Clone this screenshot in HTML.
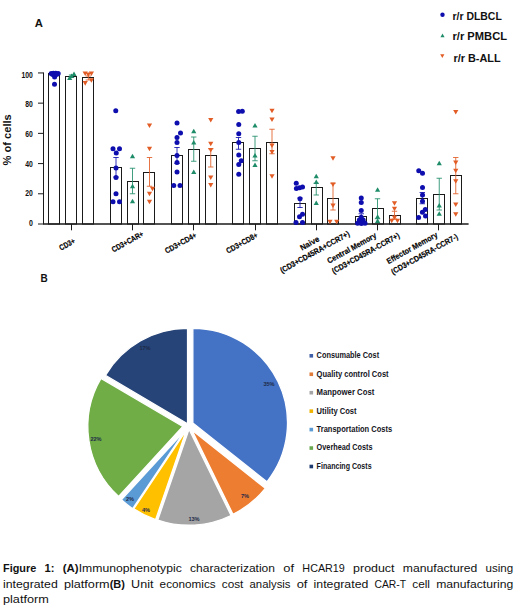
<!DOCTYPE html>
<html><head><meta charset="utf-8"><title>Figure 1</title>
<style>
html,body{margin:0;padding:0;background:#fff;}
body{width:520px;height:608px;overflow:hidden;position:relative;font-family:"Liberation Sans",sans-serif;}
svg{position:absolute;left:0;top:0;font-family:"Liberation Sans",sans-serif;}
.cap{position:absolute;left:3px;top:560.5px;width:510.5px;font-size:11.2px;line-height:15.5px;color:#111;text-align:justify;}
.cap .l{display:block;height:15.5px;white-space:nowrap;text-align:justify;text-align-last:justify;}
.cap .l.last{text-align-last:left;}
</style></head><body>
<svg width="520" height="608" viewBox="0 0 520 608">
<rect x="48.50" y="73.50" width="11.00" height="150.50" fill="#fff" stroke="#1a1a1a" stroke-width="1"/>
<rect x="65.50" y="76.50" width="11.00" height="147.50" fill="#fff" stroke="#1a1a1a" stroke-width="1"/>
<rect x="82.50" y="77.50" width="11.00" height="146.50" fill="#fff" stroke="#1a1a1a" stroke-width="1"/>
<rect x="110.50" y="167.50" width="11.00" height="56.50" fill="#fff" stroke="#1a1a1a" stroke-width="1"/>
<rect x="127.50" y="181.50" width="11.00" height="42.50" fill="#fff" stroke="#1a1a1a" stroke-width="1"/>
<rect x="143.50" y="172.50" width="11.00" height="51.50" fill="#fff" stroke="#1a1a1a" stroke-width="1"/>
<rect x="171.50" y="155.50" width="11.00" height="68.50" fill="#fff" stroke="#1a1a1a" stroke-width="1"/>
<rect x="188.50" y="149.50" width="11.00" height="74.50" fill="#fff" stroke="#1a1a1a" stroke-width="1"/>
<rect x="205.50" y="155.50" width="11.00" height="68.50" fill="#fff" stroke="#1a1a1a" stroke-width="1"/>
<rect x="232.50" y="142.50" width="11.00" height="81.50" fill="#fff" stroke="#1a1a1a" stroke-width="1"/>
<rect x="249.50" y="148.50" width="11.00" height="75.50" fill="#fff" stroke="#1a1a1a" stroke-width="1"/>
<rect x="266.50" y="142.50" width="11.00" height="81.50" fill="#fff" stroke="#1a1a1a" stroke-width="1"/>
<rect x="294.50" y="203.50" width="11.00" height="20.50" fill="#fff" stroke="#1a1a1a" stroke-width="1"/>
<rect x="311.50" y="187.50" width="11.00" height="36.50" fill="#fff" stroke="#1a1a1a" stroke-width="1"/>
<rect x="327.50" y="198.50" width="11.00" height="25.50" fill="#fff" stroke="#1a1a1a" stroke-width="1"/>
<rect x="355.50" y="216.50" width="11.00" height="7.50" fill="#fff" stroke="#1a1a1a" stroke-width="1"/>
<rect x="372.50" y="208.50" width="11.00" height="15.50" fill="#fff" stroke="#1a1a1a" stroke-width="1"/>
<rect x="389.50" y="215.50" width="11.00" height="8.50" fill="#fff" stroke="#1a1a1a" stroke-width="1"/>
<rect x="416.50" y="198.50" width="11.00" height="25.50" fill="#fff" stroke="#1a1a1a" stroke-width="1"/>
<rect x="433.50" y="194.50" width="11.00" height="29.50" fill="#fff" stroke="#1a1a1a" stroke-width="1"/>
<rect x="450.50" y="175.50" width="11.00" height="48.50" fill="#fff" stroke="#1a1a1a" stroke-width="1"/>
<path d="M43.5 72.5V224.0" stroke="#1a1a1a" stroke-width="1" fill="none"/><path d="M43 224.0H468.6" stroke="#1a1a1a" stroke-width="1.35" fill="none"/>
<path d="M38 224.00H43.5" stroke="#1a1a1a" stroke-width="1"/>
<text x="32.8" y="225.85" text-anchor="end" font-size="8.2" font-weight="bold" textLength="3.9" lengthAdjust="spacingAndGlyphs" fill="#111">0</text>
<path d="M38 193.79H43.5" stroke="#1a1a1a" stroke-width="1"/>
<text x="32.8" y="196.23" text-anchor="end" font-size="8.2" font-weight="bold" textLength="7.6" lengthAdjust="spacingAndGlyphs" fill="#111">20</text>
<path d="M38 163.58H43.5" stroke="#1a1a1a" stroke-width="1"/>
<text x="32.8" y="166.61" text-anchor="end" font-size="8.2" font-weight="bold" textLength="7.6" lengthAdjust="spacingAndGlyphs" fill="#111">40</text>
<path d="M38 133.36H43.5" stroke="#1a1a1a" stroke-width="1"/>
<text x="32.8" y="136.99" text-anchor="end" font-size="8.2" font-weight="bold" textLength="7.6" lengthAdjust="spacingAndGlyphs" fill="#111">60</text>
<path d="M38 103.15H43.5" stroke="#1a1a1a" stroke-width="1"/>
<text x="32.8" y="107.37" text-anchor="end" font-size="8.2" font-weight="bold" textLength="7.6" lengthAdjust="spacingAndGlyphs" fill="#111">80</text>
<path d="M38 72.94H43.5" stroke="#1a1a1a" stroke-width="1"/>
<text x="32.8" y="77.75" text-anchor="end" font-size="8.2" font-weight="bold" textLength="11.4" lengthAdjust="spacingAndGlyphs" fill="#111">100</text>
<path d="M71.5 224.0V230.3" stroke="#1a1a1a" stroke-width="1"/>
<path d="M132.5 224.0V230.3" stroke="#1a1a1a" stroke-width="1"/>
<path d="M193.5 224.0V230.3" stroke="#1a1a1a" stroke-width="1"/>
<path d="M255.5 224.0V230.3" stroke="#1a1a1a" stroke-width="1"/>
<path d="M316.5 224.0V230.3" stroke="#1a1a1a" stroke-width="1"/>
<path d="M377.5 224.0V230.3" stroke="#1a1a1a" stroke-width="1"/>
<path d="M438.5 224.0V230.3" stroke="#1a1a1a" stroke-width="1"/>
<path d="M54.6 73V75M51.9 73H57.300000000000004M51.9 75H57.300000000000004" stroke="#0e0eae" stroke-width="0.85" fill="none"/>
<path d="M116 157.5V177M113.3 157.5H118.7M113.3 177H118.7" stroke="#0e0eae" stroke-width="0.85" fill="none"/>
<path d="M177 147.5V163.5M174.3 147.5H179.7M174.3 163.5H179.7" stroke="#0e0eae" stroke-width="0.85" fill="none"/>
<path d="M238.5 137.5V149.25M235.8 137.5H241.2M235.8 149.25H241.2" stroke="#0e0eae" stroke-width="0.85" fill="none"/>
<path d="M300 198V207.5M297.3 198H302.7M297.3 207.5H302.7" stroke="#0e0eae" stroke-width="0.85" fill="none"/>
<path d="M361.25 213.75V219M358.55 213.75H363.95M358.55 219H363.95" stroke="#0e0eae" stroke-width="0.85" fill="none"/>
<path d="M422.3 192.5V203.75M419.6 192.5H425.0M419.6 203.75H425.0" stroke="#0e0eae" stroke-width="0.85" fill="none"/>
<path d="M71.5 75V77.5M68.8 75H74.2M68.8 77.5H74.2" stroke="#1f8c69" stroke-width="0.85" fill="none"/>
<path d="M132.5 168.25V193.75M129.8 168.25H135.2M129.8 193.75H135.2" stroke="#1f8c69" stroke-width="0.85" fill="none"/>
<path d="M193.75 137V161.25M191.05 137H196.45M191.05 161.25H196.45" stroke="#1f8c69" stroke-width="0.85" fill="none"/>
<path d="M255 136.25V160.75M252.3 136.25H257.7M252.3 160.75H257.7" stroke="#1f8c69" stroke-width="0.85" fill="none"/>
<path d="M316.25 183.25V195M313.55 183.25H318.95M313.55 195H318.95" stroke="#1f8c69" stroke-width="0.85" fill="none"/>
<path d="M377.5 198.75V218.7M374.8 198.75H380.2M374.8 218.7H380.2" stroke="#1f8c69" stroke-width="0.85" fill="none"/>
<path d="M439.25 178.25V210M436.55 178.25H441.95M436.55 210H441.95" stroke="#1f8c69" stroke-width="0.85" fill="none"/>
<path d="M88.3 76V80M85.6 76H91.0M85.6 80H91.0" stroke="#e25c25" stroke-width="0.85" fill="none"/>
<path d="M149.5 157.5V186.25M146.8 157.5H152.2M146.8 186.25H152.2" stroke="#e25c25" stroke-width="0.85" fill="none"/>
<path d="M210.75 148.75V167M208.05 148.75H213.45M208.05 167H213.45" stroke="#e25c25" stroke-width="0.85" fill="none"/>
<path d="M272 129.25V153.75M269.3 129.25H274.7M269.3 153.75H274.7" stroke="#e25c25" stroke-width="0.85" fill="none"/>
<path d="M333 183.25V210M330.3 183.25H335.7M330.3 210H335.7" stroke="#e25c25" stroke-width="0.85" fill="none"/>
<path d="M394.5 211.25V219M391.8 211.25H397.2M391.8 219H397.2" stroke="#e25c25" stroke-width="0.85" fill="none"/>
<path d="M455.75 157.5V193.75M453.05 157.5H458.45M453.05 193.75H458.45" stroke="#e25c25" stroke-width="0.85" fill="none"/>
<circle cx="51.2" cy="73.4" r="2.5" fill="#0e0eae"/>
<circle cx="53.4" cy="73.3" r="2.5" fill="#0e0eae"/>
<circle cx="55.8" cy="73.3" r="2.5" fill="#0e0eae"/>
<circle cx="58.2" cy="73.4" r="2.5" fill="#0e0eae"/>
<circle cx="54.6" cy="76.9" r="2.5" fill="#0e0eae"/>
<circle cx="52.6" cy="74.6" r="2.5" fill="#0e0eae"/>
<circle cx="56.6" cy="74.6" r="2.5" fill="#0e0eae"/>
<circle cx="54.5" cy="84.3" r="2.5" fill="#0e0eae"/>
<circle cx="115.75" cy="110.75" r="2.5" fill="#0e0eae"/>
<circle cx="113" cy="148.75" r="2.5" fill="#0e0eae"/>
<circle cx="119.5" cy="148.75" r="2.5" fill="#0e0eae"/>
<circle cx="116.25" cy="153" r="2.5" fill="#0e0eae"/>
<circle cx="116" cy="168" r="2.5" fill="#0e0eae"/>
<circle cx="116" cy="177.5" r="2.5" fill="#0e0eae"/>
<circle cx="116" cy="193.75" r="2.5" fill="#0e0eae"/>
<circle cx="113" cy="201.75" r="2.5" fill="#0e0eae"/>
<circle cx="119.5" cy="201.75" r="2.5" fill="#0e0eae"/>
<circle cx="177" cy="123" r="2.5" fill="#0e0eae"/>
<circle cx="180.5" cy="133" r="2.5" fill="#0e0eae"/>
<circle cx="177" cy="137.5" r="2.5" fill="#0e0eae"/>
<circle cx="177" cy="142.5" r="2.5" fill="#0e0eae"/>
<circle cx="177" cy="155.5" r="2.5" fill="#0e0eae"/>
<circle cx="177" cy="162.5" r="2.5" fill="#0e0eae"/>
<circle cx="177" cy="172" r="2.5" fill="#0e0eae"/>
<circle cx="173.75" cy="185.5" r="2.5" fill="#0e0eae"/>
<circle cx="180" cy="185.5" r="2.5" fill="#0e0eae"/>
<circle cx="238.6" cy="111.4" r="2.5" fill="#0e0eae"/>
<circle cx="242.3" cy="111.2" r="2.5" fill="#0e0eae"/>
<circle cx="238.75" cy="124.5" r="2.5" fill="#0e0eae"/>
<circle cx="238.75" cy="133.75" r="2.5" fill="#0e0eae"/>
<circle cx="238.75" cy="142.5" r="2.5" fill="#0e0eae"/>
<circle cx="238.75" cy="155" r="2.5" fill="#0e0eae"/>
<circle cx="241.25" cy="160.75" r="2.5" fill="#0e0eae"/>
<circle cx="238.75" cy="164.5" r="2.5" fill="#0e0eae"/>
<circle cx="238.75" cy="174.25" r="2.5" fill="#0e0eae"/>
<circle cx="296.25" cy="183.25" r="2.5" fill="#0e0eae"/>
<circle cx="296.4" cy="188.6" r="2.5" fill="#0e0eae"/>
<circle cx="299.6" cy="187.8" r="2.5" fill="#0e0eae"/>
<circle cx="302.5" cy="186.9" r="2.5" fill="#0e0eae"/>
<circle cx="300" cy="198.75" r="2.5" fill="#0e0eae"/>
<circle cx="302.5" cy="214.25" r="2.5" fill="#0e0eae"/>
<circle cx="299.5" cy="216.75" r="2.5" fill="#0e0eae"/>
<circle cx="296" cy="222.5" r="2.5" fill="#0e0eae"/>
<circle cx="302.5" cy="222.5" r="2.5" fill="#0e0eae"/>
<circle cx="361.25" cy="198" r="2.5" fill="#0e0eae"/>
<circle cx="361.25" cy="202.5" r="2.5" fill="#0e0eae"/>
<circle cx="361.25" cy="210.5" r="2.5" fill="#0e0eae"/>
<circle cx="359.3" cy="220" r="2.5" fill="#0e0eae"/>
<circle cx="363.2" cy="220" r="2.5" fill="#0e0eae"/>
<circle cx="361.2" cy="217.2" r="2.5" fill="#0e0eae"/>
<circle cx="357.6" cy="223.3" r="2.5" fill="#0e0eae"/>
<circle cx="361.4" cy="223.6" r="2.5" fill="#0e0eae"/>
<circle cx="365" cy="223.3" r="2.5" fill="#0e0eae"/>
<circle cx="418.75" cy="170.75" r="2.5" fill="#0e0eae"/>
<circle cx="422.5" cy="173.25" r="2.5" fill="#0e0eae"/>
<circle cx="422.5" cy="187.5" r="2.5" fill="#0e0eae"/>
<circle cx="422.5" cy="195" r="2.5" fill="#0e0eae"/>
<circle cx="422.5" cy="201.25" r="2.5" fill="#0e0eae"/>
<circle cx="425.3" cy="209.5" r="2.5" fill="#0e0eae"/>
<circle cx="422.4" cy="212.2" r="2.5" fill="#0e0eae"/>
<circle cx="418.6" cy="217.4" r="2.5" fill="#0e0eae"/>
<circle cx="425.5" cy="216" r="2.5" fill="#0e0eae"/>
<path d="M67.10 80.08L72.30 80.08L69.70 75.53Z" fill="#1f8c69"/>
<path d="M71.40 76.08L76.60 76.08L74.00 71.53Z" fill="#1f8c69"/>
<path d="M68.90 78.08L74.10 78.08L71.50 73.53Z" fill="#1f8c69"/>
<path d="M129.90 158.33L135.10 158.33L132.50 153.78Z" fill="#1f8c69"/>
<path d="M129.90 188.33L135.10 188.33L132.50 183.78Z" fill="#1f8c69"/>
<path d="M129.90 203.33L135.10 203.33L132.50 198.78Z" fill="#1f8c69"/>
<path d="M191.15 133.33L196.35 133.33L193.75 128.78Z" fill="#1f8c69"/>
<path d="M191.15 144.58L196.35 144.58L193.75 140.03Z" fill="#1f8c69"/>
<path d="M191.15 174.08L196.35 174.08L193.75 169.53Z" fill="#1f8c69"/>
<path d="M252.40 127.58L257.60 127.58L255.00 123.03Z" fill="#1f8c69"/>
<path d="M252.40 157.58L257.60 157.58L255.00 153.03Z" fill="#1f8c69"/>
<path d="M252.40 167.08L257.60 167.08L255.00 162.53Z" fill="#1f8c69"/>
<path d="M313.65 178.33L318.85 178.33L316.25 173.78Z" fill="#1f8c69"/>
<path d="M313.65 184.08L318.85 184.08L316.25 179.53Z" fill="#1f8c69"/>
<path d="M313.65 205.08L318.85 205.08L316.25 200.53Z" fill="#1f8c69"/>
<path d="M375.00 191.68L380.20 191.68L377.60 187.13Z" fill="#1f8c69"/>
<path d="M375.00 218.68L380.20 218.68L377.60 214.13Z" fill="#1f8c69"/>
<path d="M375.00 222.88L380.20 222.88L377.60 218.33Z" fill="#1f8c69"/>
<path d="M436.65 165.33L441.85 165.33L439.25 160.78Z" fill="#1f8c69"/>
<path d="M436.65 207.58L441.85 207.58L439.25 203.03Z" fill="#1f8c69"/>
<path d="M436.65 215.83L441.85 215.83L439.25 211.28Z" fill="#1f8c69"/>
<path d="M82.60 71.52L87.80 71.52L85.20 76.07Z" fill="#e25c25"/>
<path d="M88.80 71.52L94.00 71.52L91.40 76.07Z" fill="#e25c25"/>
<path d="M85.70 72.52L90.90 72.52L88.30 77.07Z" fill="#e25c25"/>
<path d="M82.60 81.12L87.80 81.12L85.20 85.67Z" fill="#e25c25"/>
<path d="M88.80 78.32L94.00 78.32L91.40 82.87Z" fill="#e25c25"/>
<path d="M146.90 123.42L152.10 123.42L149.50 127.97Z" fill="#e25c25"/>
<path d="M146.90 146.67L152.10 146.67L149.50 151.22Z" fill="#e25c25"/>
<path d="M149.90 186.67L155.10 186.67L152.50 191.22Z" fill="#e25c25"/>
<path d="M146.90 191.67L152.10 191.67L149.50 196.22Z" fill="#e25c25"/>
<path d="M146.90 199.67L152.10 199.67L149.50 204.22Z" fill="#e25c25"/>
<path d="M208.15 117.92L213.35 117.92L210.75 122.47Z" fill="#e25c25"/>
<path d="M208.15 141.67L213.35 141.67L210.75 146.22Z" fill="#e25c25"/>
<path d="M208.15 147.92L213.35 147.92L210.75 152.47Z" fill="#e25c25"/>
<path d="M208.15 175.42L213.35 175.42L210.75 179.97Z" fill="#e25c25"/>
<path d="M208.15 182.92L213.35 182.92L210.75 187.47Z" fill="#e25c25"/>
<path d="M269.40 108.67L274.60 108.67L272.00 113.22Z" fill="#e25c25"/>
<path d="M269.40 117.42L274.60 117.42L272.00 121.97Z" fill="#e25c25"/>
<path d="M269.40 143.42L274.60 143.42L272.00 147.97Z" fill="#e25c25"/>
<path d="M269.40 149.92L274.60 149.92L272.00 154.47Z" fill="#e25c25"/>
<path d="M269.40 174.17L274.60 174.17L272.00 178.72Z" fill="#e25c25"/>
<path d="M330.40 156.17L335.60 156.17L333.00 160.72Z" fill="#e25c25"/>
<path d="M330.40 182.42L335.60 182.42L333.00 186.97Z" fill="#e25c25"/>
<path d="M330.40 203.42L335.60 203.42L333.00 207.97Z" fill="#e25c25"/>
<path d="M327.40 219.67L332.60 219.67L330.00 224.22Z" fill="#e25c25"/>
<path d="M334.15 219.67L339.35 219.67L336.75 224.22Z" fill="#e25c25"/>
<path d="M391.90 201.17L397.10 201.17L394.50 205.72Z" fill="#e25c25"/>
<path d="M391.90 206.67L397.10 206.67L394.50 211.22Z" fill="#e25c25"/>
<path d="M389.15 218.67L394.35 218.67L391.75 223.22Z" fill="#e25c25"/>
<path d="M394.90 218.67L400.10 218.67L397.50 223.22Z" fill="#e25c25"/>
<path d="M391.90 215.42L397.10 215.42L394.50 219.97Z" fill="#e25c25"/>
<path d="M453.15 109.92L458.35 109.92L455.75 114.47Z" fill="#e25c25"/>
<path d="M453.15 160.42L458.35 160.42L455.75 164.97Z" fill="#e25c25"/>
<path d="M453.15 168.67L458.35 168.67L455.75 173.22Z" fill="#e25c25"/>
<path d="M453.15 179.17L458.35 179.17L455.75 183.72Z" fill="#e25c25"/>
<path d="M453.15 202.42L458.35 202.42L455.75 206.97Z" fill="#e25c25"/>
<path d="M453.15 212.17L458.35 212.17L455.75 216.72Z" fill="#e25c25"/>
<text transform="translate(67.0 244.3) rotate(-29)" y="2.8" font-size="8" font-weight="bold" fill="#000" stroke="#000" stroke-width="0.18" text-anchor="middle" textLength="16.8" lengthAdjust="spacingAndGlyphs">CD3+</text>
<text transform="translate(127.5 241.6) rotate(-29)" y="2.8" font-size="8" font-weight="bold" fill="#000" stroke="#000" stroke-width="0.18" text-anchor="middle" textLength="35" lengthAdjust="spacingAndGlyphs">CD3+CAR+</text>
<text transform="translate(180.6 242.9) rotate(-29)" y="2.8" font-size="8" font-weight="bold" fill="#000" stroke="#000" stroke-width="0.18" text-anchor="middle" textLength="35" lengthAdjust="spacingAndGlyphs">CD3+CD4+</text>
<text transform="translate(241.9 242.9) rotate(-29)" y="2.8" font-size="8" font-weight="bold" fill="#000" stroke="#000" stroke-width="0.18" text-anchor="middle" textLength="35" lengthAdjust="spacingAndGlyphs">CD3+CD8+</text>
<text transform="translate(309.6 243.2) rotate(-29)" y="2.8" font-size="8" font-weight="bold" fill="#000" stroke="#000" stroke-width="0.18" text-anchor="middle" textLength="20.5" lengthAdjust="spacingAndGlyphs">Naive</text>
<text transform="translate(314.7 251.9) rotate(-29)" y="2.8" font-size="8" font-weight="bold" fill="#000" stroke="#000" stroke-width="0.18" text-anchor="middle" textLength="78" lengthAdjust="spacingAndGlyphs">(CD3+CD45RA+CCR7+)</text>
<text transform="translate(351.7 248) rotate(-29)" y="2.8" font-size="8" font-weight="bold" fill="#000" stroke="#000" stroke-width="0.18" text-anchor="middle" textLength="55" lengthAdjust="spacingAndGlyphs">Central Memory</text>
<text transform="translate(365.6 253.1) rotate(-29)" y="2.8" font-size="8" font-weight="bold" fill="#000" stroke="#000" stroke-width="0.18" text-anchor="middle" textLength="76" lengthAdjust="spacingAndGlyphs">(CD3+CD45RA-CCR7+)</text>
<text transform="translate(412 247.9) rotate(-29)" y="2.8" font-size="8" font-weight="bold" fill="#000" stroke="#000" stroke-width="0.18" text-anchor="middle" textLength="57" lengthAdjust="spacingAndGlyphs">Effector Memory</text>
<text transform="translate(424.4 254) rotate(-29)" y="2.8" font-size="8" font-weight="bold" fill="#000" stroke="#000" stroke-width="0.18" text-anchor="middle" textLength="75" lengthAdjust="spacingAndGlyphs">(CD3+CD45RA-CCR7-)</text>
<text transform="translate(11.4 165.5) rotate(-90)" font-size="11.2" font-weight="bold" textLength="51.3" lengthAdjust="spacingAndGlyphs" fill="#111">% of cells</text>
<text x="34.8" y="26.8" font-size="11.3" font-weight="bold" fill="#111">A</text>
<text x="40.6" y="282" font-size="11.6" font-weight="bold" textLength="7.2" lengthAdjust="spacingAndGlyphs" fill="#111">B</text>
<circle cx="442.5" cy="14.7" r="2.2" fill="#0e0eae"/>
<path d="M440.40 37.28L444.60 37.28L442.50 33.61Z" fill="#1f8c69"/>
<path d="M440.20 54.22L444.40 54.22L442.30 57.89Z" fill="#e25c25"/>
<text x="452.5" y="19.9" font-size="10.4" font-weight="bold" textLength="49.3" lengthAdjust="spacingAndGlyphs" fill="#111">r/r DLBCL</text>
<text x="452.5" y="40.1" font-size="10.4" font-weight="bold" textLength="54.5" lengthAdjust="spacingAndGlyphs" fill="#111">r/r PMBCL</text>
<text x="453.4" y="61.8" font-size="10.4" font-weight="bold" textLength="47.2" lengthAdjust="spacingAndGlyphs" fill="#111">r/r B-ALL</text>
<path d="M192.85 422.90L192.85 328.25A94.65 94.65 0 0 1 266.92 481.82Z" fill="#4472c4" stroke="#fff" stroke-width="1.3" stroke-linejoin="miter" stroke-miterlimit="20"/>
<path d="M191.80 429.90L265.29 488.35A93.9 93.9 0 0 1 232.96 514.30Z" fill="#ed7d31" stroke="#fff" stroke-width="1.3" stroke-linejoin="miter" stroke-miterlimit="20"/>
<path d="M189.00 429.30L231.06 515.54A95.95 95.95 0 0 1 157.76 520.02Z" fill="#a5a5a5" stroke="#fff" stroke-width="1.3" stroke-linejoin="miter" stroke-miterlimit="20"/>
<path d="M186.40 430.20L155.60 519.65A94.6 94.6 0 0 1 133.77 508.81Z" fill="#ffc000" stroke="#fff" stroke-width="1.3" stroke-linejoin="miter" stroke-miterlimit="20"/>
<path d="M185.60 429.70L132.70 508.73A95.1 95.1 0 0 1 121.35 499.82Z" fill="#5b9bd5" stroke="#fff" stroke-width="1.3" stroke-linejoin="miter" stroke-miterlimit="20"/>
<path d="M182.80 426.55L118.65 496.55A94.95 94.95 0 0 1 100.99 378.36Z" fill="#70ad47" stroke="#fff" stroke-width="1.3" stroke-linejoin="miter" stroke-miterlimit="20"/>
<path d="M187.55 423.75L105.44 375.38A95.3 95.3 0 0 1 187.55 328.45Z" fill="#264478" stroke="#fff" stroke-width="1.3" stroke-linejoin="miter" stroke-miterlimit="20"/>
<text x="269" y="386" font-size="5.6" font-weight="bold" text-anchor="middle" fill="#1f2a48">35%</text>
<text x="245" y="498" font-size="5.6" font-weight="bold" text-anchor="middle" fill="#1f2a48">7%</text>
<text x="194" y="520.5" font-size="5.6" font-weight="bold" text-anchor="middle" fill="#1f2a48">13%</text>
<text x="146" y="512" font-size="5.6" font-weight="bold" text-anchor="middle" fill="#1f2a48">4%</text>
<text x="130" y="501" font-size="5.6" font-weight="bold" text-anchor="middle" fill="#1f2a48">2%</text>
<text x="96" y="441" font-size="5.6" font-weight="bold" text-anchor="middle" fill="#1f2a48">22%</text>
<text x="145" y="349.5" font-size="5.6" font-weight="bold" text-anchor="middle" fill="#1f2a48">17%</text>
<rect x="309.5" y="354.00" width="3.6" height="3.6" fill="#3f5fa8"/>
<text x="316.6" y="358.20" font-size="8.5" font-weight="bold" textLength="62.5" lengthAdjust="spacingAndGlyphs" fill="#14141c">Consumable Cost</text>
<rect x="309.5" y="372.45" width="3.6" height="3.6" fill="#e07b39"/>
<text x="316.6" y="376.65" font-size="8.5" font-weight="bold" textLength="72" lengthAdjust="spacingAndGlyphs" fill="#14141c">Quality control Cost</text>
<rect x="309.5" y="390.90" width="3.6" height="3.6" fill="#a5a5a5"/>
<text x="316.6" y="395.10" font-size="8.5" font-weight="bold" textLength="57.7" lengthAdjust="spacingAndGlyphs" fill="#14141c">Manpower Cost</text>
<rect x="309.5" y="409.35" width="3.6" height="3.6" fill="#f0b400"/>
<text x="316.6" y="413.55" font-size="8.5" font-weight="bold" textLength="40" lengthAdjust="spacingAndGlyphs" fill="#14141c">Utility Cost</text>
<rect x="309.5" y="427.80" width="3.6" height="3.6" fill="#5b9bd5"/>
<text x="316.6" y="432.00" font-size="8.5" font-weight="bold" textLength="75.5" lengthAdjust="spacingAndGlyphs" fill="#14141c">Transportation Costs</text>
<rect x="309.5" y="446.25" width="3.6" height="3.6" fill="#6aa84f"/>
<text x="316.6" y="450.45" font-size="8.5" font-weight="bold" textLength="56" lengthAdjust="spacingAndGlyphs" fill="#14141c">Overhead Costs</text>
<rect x="309.5" y="464.70" width="3.6" height="3.6" fill="#1f3a6e"/>
<text x="316.6" y="468.90" font-size="8.5" font-weight="bold" textLength="55" lengthAdjust="spacingAndGlyphs" fill="#14141c">Financing Costs</text>
<text x="3.00" y="571.75" font-size="11.4" font-weight="bold" textLength="33.20" lengthAdjust="spacingAndGlyphs" fill="#111">Figure</text>
<text x="44.51" y="571.75" font-size="11.4" font-weight="bold" textLength="9.98" lengthAdjust="spacingAndGlyphs" fill="#111">1:</text>
<text x="62.81" y="571.75" font-size="11.4" font-weight="bold" textLength="15.87" lengthAdjust="spacingAndGlyphs" fill="#111">(A)</text>
<text x="78.68" y="571.75" font-size="11.4" textLength="103.12" lengthAdjust="spacingAndGlyphs" fill="#111">Immunophenotypic</text>
<text x="190.12" y="571.75" font-size="11.4" textLength="84.88" lengthAdjust="spacingAndGlyphs" fill="#111">characterization</text>
<text x="283.31" y="571.75" font-size="11.4" textLength="10.74" lengthAdjust="spacingAndGlyphs" fill="#111">of</text>
<text x="302.36" y="571.75" font-size="11.4" textLength="42.46" lengthAdjust="spacingAndGlyphs" fill="#111">HCAR19</text>
<text x="353.13" y="571.75" font-size="11.4" textLength="41.41" lengthAdjust="spacingAndGlyphs" fill="#111">product</text>
<text x="402.85" y="571.75" font-size="11.4" textLength="74.40" lengthAdjust="spacingAndGlyphs" fill="#111">manufactured</text>
<text x="485.57" y="571.75" font-size="11.4" textLength="27.63" lengthAdjust="spacingAndGlyphs" fill="#111">using</text>
<text x="3.00" y="587.5" font-size="11.4" textLength="54.74" lengthAdjust="spacingAndGlyphs" fill="#111">integrated</text>
<text x="63.90" y="587.5" font-size="11.4" textLength="45.78" lengthAdjust="spacingAndGlyphs" fill="#111">platform</text>
<text x="109.68" y="587.5" font-size="11.4" font-weight="bold" textLength="15.28" lengthAdjust="spacingAndGlyphs" fill="#111">(B)</text>
<text x="131.11" y="587.5" font-size="11.4" textLength="22.34" lengthAdjust="spacingAndGlyphs" fill="#111">Unit</text>
<text x="159.61" y="587.5" font-size="11.4" textLength="56.02" lengthAdjust="spacingAndGlyphs" fill="#111">economics</text>
<text x="221.78" y="587.5" font-size="11.4" textLength="21.62" lengthAdjust="spacingAndGlyphs" fill="#111">cost</text>
<text x="249.56" y="587.5" font-size="11.4" textLength="40.99" lengthAdjust="spacingAndGlyphs" fill="#111">analysis</text>
<text x="296.70" y="587.5" font-size="11.4" textLength="10.74" lengthAdjust="spacingAndGlyphs" fill="#111">of</text>
<text x="313.60" y="587.5" font-size="11.4" textLength="54.74" lengthAdjust="spacingAndGlyphs" fill="#111">integrated</text>
<text x="374.50" y="587.5" font-size="11.4" textLength="31.58" lengthAdjust="spacingAndGlyphs" fill="#111">CAR-T</text>
<text x="412.23" y="587.5" font-size="11.4" textLength="17.79" lengthAdjust="spacingAndGlyphs" fill="#111">cell</text>
<text x="436.18" y="587.5" font-size="11.4" textLength="77.02" lengthAdjust="spacingAndGlyphs" fill="#111">manufacturing</text>
<text x="3.00" y="602.5" font-size="11.4" textLength="45.78" lengthAdjust="spacingAndGlyphs" fill="#111">platform</text>
</svg>

</body></html>
